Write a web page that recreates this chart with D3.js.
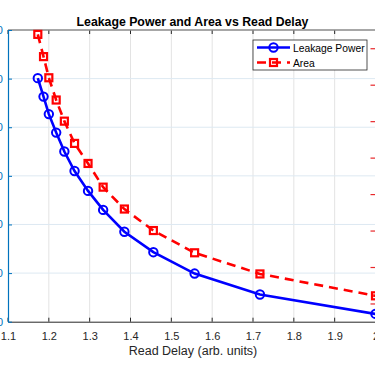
<!DOCTYPE html>
<html lang="en">
<head>
  <meta charset="UTF-8" />
  <title>Leakage Power and Area vs Read Delay</title>
  <style>
    html, body {
      margin: 0;
      padding: 0;
      background: white;
      overflow: hidden;
    }
    svg {
      display: block;
      font-family: "Liberation Sans", Arial, Helvetica, sans-serif;
    }
  </style>
</head>
<body>
  <svg width="375" height="366"></svg>

  <script src="https://d3js.org/d3.v7.min.js"></script>
  <script>
    // values
    const readDelay = [1.173, 1.187, 1.2, 1.218, 1.238, 1.263, 1.296, 1.333, 1.385, 1.456, 1.557, 1.717, 2.0];
    const leakagePower = [50.1, 46.3, 42.7, 38.9, 35.0, 31.0, 26.9, 23.0, 18.5, 14.3, 9.9, 5.6, 1.6];
    const area = [8.38, 7.77, 7.19, 6.58, 6.0, 5.39, 4.84, 4.19, 3.59, 3.0, 2.39, 1.81, 1.21];
    const xTicks = [1.1, 1.2, 1.3, 1.4, 1.5, 1.6, 1.7, 1.8, 1.9, 2];
    const leftTicks = [0, 10, 20, 30, 40, 50, 60];
    const rightTicks = [1, 2, 3, 4, 5, 6, 7, 8];

    const plot = { left: 8, right: 375.5, top: 30, bottom: 321.7 };
    const axisGray = "#262626";
    const leftColor = "#0072BD";
    const rightColor = "#e8282b";

    const svg = d3.select("svg");

    const x = d3.scaleLinear().domain([1.1, 2.0]).range([plot.left, plot.right]);
    const yL = d3.scaleLinear().domain([0, 60]).range([plot.bottom, plot.top]);
    const yR = d3.scaleLinear().domain([0.5, 8.5]).range([plot.bottom, plot.top]);

    // grid
    svg.append("g")
      .selectAll("line")
      .data(xTicks.slice(1, -1))
      .join("line")
        .attr("x1", d => x(d)).attr("x2", d => x(d))
        .attr("y1", plot.top).attr("y2", plot.bottom)
        .attr("stroke", "#e3e3e3")
        .attr("stroke-width", 1);

    svg.append("g")
      .selectAll("line")
      .data(leftTicks.slice(1, -1))
      .join("line")
        .attr("x1", plot.left).attr("x2", plot.right)
        .attr("y1", d => yL(d)).attr("y2", d => yL(d))
        .attr("stroke", "#dde9f2")
        .attr("stroke-width", 1);

    // bottom axis
    const xAxis = svg.append("g")
      .attr("transform", `translate(0,${plot.bottom})`)
      .call(d3.axisBottom(x).tickValues(xTicks).tickSize(0).tickPadding(11)
        .tickFormat(d => d === 2 ? "2" : d3.format(".1f")(d)));
    xAxis.select(".domain").attr("stroke", axisGray).attr("stroke-width", 1);
    xAxis.selectAll("text").attr("font-size", 11).attr("fill", axisGray);

    // inward tick marks top and bottom
    svg.append("g")
      .selectAll("line")
      .data(xTicks)
      .join("line")
        .attr("x1", d => x(d)).attr("x2", d => x(d))
        .attr("y1", plot.bottom).attr("y2", plot.bottom - 4)
        .attr("stroke", axisGray);
    svg.append("g")
      .selectAll("line")
      .data(xTicks)
      .join("line")
        .attr("x1", d => x(d)).attr("x2", d => x(d))
        .attr("y1", plot.top).attr("y2", plot.top + 4)
        .attr("stroke", axisGray);

    svg.append("line")
      .attr("x1", plot.left).attr("x2", plot.right)
      .attr("y1", plot.top).attr("y2", plot.top)
      .attr("stroke", "#8a8a8a").attr("stroke-width", 1.5);

    // left axis (labels mostly beyond the window edge)
    const leftAxis = svg.append("g")
      .attr("transform", `translate(${plot.left},0)`)
      .call(d3.axisLeft(yL).tickValues(leftTicks).tickSizeInner(-4).tickSizeOuter(0).tickPadding(5));
    leftAxis.select(".domain").attr("stroke", leftColor).attr("stroke-width", 1.2);
    leftAxis.selectAll(".tick line").attr("stroke", leftColor);
    leftAxis.selectAll("text").attr("font-size", 11).attr("fill", leftColor);

    // right axis (its line sits just past the window edge)
    const rightAxis = svg.append("g")
      .attr("transform", `translate(${plot.right},0)`)
      .call(d3.axisRight(yR).tickValues(rightTicks).tickSizeInner(-5).tickSizeOuter(0).tickPadding(9));
    rightAxis.select(".domain").attr("stroke", rightColor).attr("stroke-width", 1.2);
    rightAxis.selectAll(".tick line").attr("stroke", rightColor).attr("stroke-width", 1.2);
    rightAxis.selectAll("text").attr("font-size", 11).attr("fill", rightColor);

    // series
    const bluePts = readDelay.map((d, i) => [d, leakagePower[i]]);
    const redPts = readDelay.map((d, i) => [d, area[i]]);

    svg.append("path")
      .datum(redPts)
      .attr("fill", "none")
      .attr("stroke", "#ff0000")
      .attr("stroke-width", 2.6)
      .attr("stroke-dasharray", "9,6")
      .attr("d", d3.line().x(d => x(d[0])).y(d => yR(d[1])));

    svg.append("g")
      .selectAll("rect")
      .data(redPts)
      .join("rect")
        .attr("x", d => x(d[0]) - 3.5)
        .attr("y", d => yR(d[1]) - 3.5)
        .attr("width", 7).attr("height", 7)
        .attr("fill", "none")
        .attr("stroke", "#ff0000")
        .attr("stroke-width", 2.2);

    svg.append("path")
      .datum(bluePts)
      .attr("fill", "none")
      .attr("stroke", "#0000ff")
      .attr("stroke-width", 2.6)
      .attr("d", d3.line().x(d => x(d[0])).y(d => yL(d[1])));

    svg.append("g")
      .selectAll("circle")
      .data(bluePts)
      .join("circle")
        .attr("cx", d => x(d[0]))
        .attr("cy", d => yL(d[1]))
        .attr("r", 4.2)
        .attr("fill", "none")
        .attr("stroke", "#0000ff")
        .attr("stroke-width", 2);

    // title and label
    svg.append("text")
      .attr("x", 192.5).attr("y", 25.5)
      .attr("text-anchor", "middle")
      .attr("font-size", 12.3)
      .attr("font-weight", "bold")
      .attr("fill", "#000")
      .text("Leakage Power and Area vs Read Delay");

    svg.append("text")
      .attr("x", 193).attr("y", 355)
      .attr("text-anchor", "middle")
      .attr("font-size", 12.5)
      .attr("fill", axisGray)
      .text("Read Delay (arb. units)");

    // legend
    const legend = svg.append("g").attr("transform", "translate(253,40)");
    legend.append("rect")
      .attr("width", 114).attr("height", 30)
      .attr("fill", "white")
      .attr("stroke", "#262626")
      .attr("stroke-width", 0.8);

    const legendItems = [
      { name: "Leakage Power", color: "#0000ff", dash: null, marker: "circle" },
      { name: "Area", color: "#ff0000", dash: "9,6", marker: "square" }
    ];

    legendItems.forEach((item, i) => {
      const gy = 7.5 + i * 15;
      legend.append("line")
        .attr("x1", 4).attr("x2", 37)
        .attr("y1", gy).attr("y2", gy)
        .attr("stroke", item.color)
        .attr("stroke-width", 2.6)
        .attr("stroke-dasharray", item.dash);
      if (item.marker === "circle") {
        legend.append("circle")
          .attr("cx", 20.5).attr("cy", gy).attr("r", 4.2)
          .attr("fill", "none").attr("stroke", item.color).attr("stroke-width", 2);
      } else {
        legend.append("rect")
          .attr("x", 17).attr("y", gy - 3.5).attr("width", 7).attr("height", 7)
          .attr("fill", "none").attr("stroke", item.color).attr("stroke-width", 2.2);
      }
      legend.append("text")
        .attr("x", 40).attr("y", gy + 4)
        .attr("font-size", 10.3)
        .attr("fill", "#000")
        .text(item.name);
    });
  </script>
</body>
</html>
